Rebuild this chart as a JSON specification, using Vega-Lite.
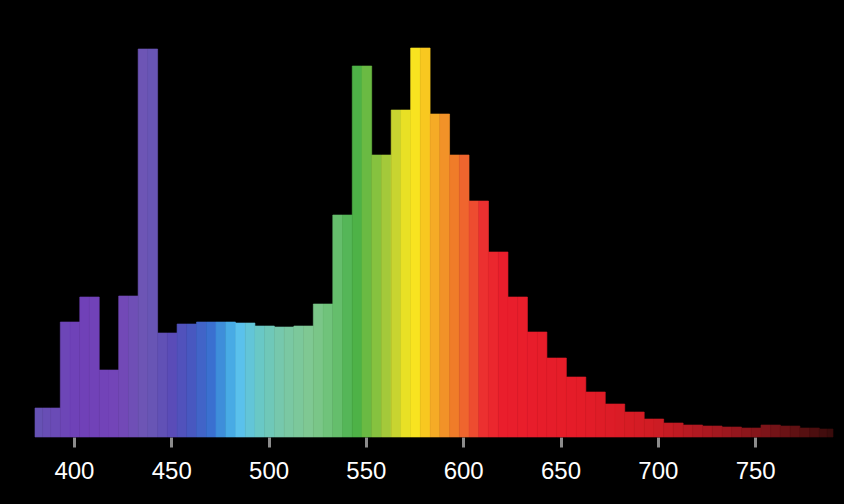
{
  "$schema": "https://vega.github.io/schema/vega-lite/v6.json",
  "width": 798,
  "height": 400,
  "autosize": {"type": "none"},
  "padding": {"left": 35, "top": 37, "right": 11, "bottom": 67},
  "background": "#000000",
  "config": {"view": {"stroke": null}},
  "data": {"values": [
    {"a":380,"b":384,"v":29},{"a":384,"b":388,"v":29},{"a":388,"b":393,"v":29},
    {"a":393,"b":398,"v":115},{"a":398,"b":403,"v":115},
    {"a":403,"b":408,"v":140},{"a":408,"b":413,"v":140},
    {"a":413,"b":418,"v":67},{"a":418,"b":423,"v":67},
    {"a":423,"b":428,"v":141},{"a":428,"b":433,"v":141},
    {"a":433,"b":438,"v":388},{"a":438,"b":443,"v":388},
    {"a":443,"b":448,"v":104},{"a":448,"b":453,"v":104},
    {"a":453,"b":458,"v":113},{"a":458,"b":463,"v":113},
    {"a":463,"b":468,"v":115},{"a":468,"b":473,"v":115},
    {"a":473,"b":478,"v":115},{"a":478,"b":483,"v":115},
    {"a":483,"b":488,"v":114},{"a":488,"b":493,"v":114},
    {"a":493,"b":498,"v":111},{"a":498,"b":503,"v":111},
    {"a":503,"b":508,"v":110},{"a":508,"b":513,"v":110},
    {"a":513,"b":518,"v":111},{"a":518,"b":523,"v":111},
    {"a":523,"b":528,"v":133},{"a":528,"b":533,"v":133},
    {"a":533,"b":538,"v":222},{"a":538,"b":543,"v":222},
    {"a":543,"b":548,"v":371},{"a":548,"b":553,"v":371},
    {"a":553,"b":558,"v":282},{"a":558,"b":563,"v":282},
    {"a":563,"b":568,"v":327},{"a":568,"b":573,"v":327},
    {"a":573,"b":578,"v":389},{"a":578,"b":583,"v":389},
    {"a":583,"b":588,"v":323},{"a":588,"b":593,"v":323},
    {"a":593,"b":598,"v":282},{"a":598,"b":603,"v":282},
    {"a":603,"b":608,"v":236},{"a":608,"b":613,"v":236},
    {"a":613,"b":618,"v":185},{"a":618,"b":623,"v":185},
    {"a":623,"b":628,"v":140},{"a":628,"b":633,"v":140},
    {"a":633,"b":638,"v":105},{"a":638,"b":643,"v":105},
    {"a":643,"b":648,"v":79},{"a":648,"b":653,"v":79},
    {"a":653,"b":658,"v":60},{"a":658,"b":663,"v":60},
    {"a":663,"b":668,"v":45},{"a":668,"b":673,"v":45},
    {"a":673,"b":678,"v":33},{"a":678,"b":683,"v":33},
    {"a":683,"b":688,"v":25},{"a":688,"b":693,"v":25},
    {"a":693,"b":698,"v":18},{"a":698,"b":703,"v":18},
    {"a":703,"b":708,"v":14},{"a":708,"b":713,"v":14},
    {"a":713,"b":718,"v":12},{"a":718,"b":723,"v":12},
    {"a":723,"b":728,"v":11},{"a":728,"b":733,"v":11},
    {"a":733,"b":738,"v":10},{"a":738,"b":743,"v":10},
    {"a":743,"b":748,"v":9},{"a":748,"b":753,"v":9},
    {"a":753,"b":758,"v":12},{"a":758,"b":763,"v":12},
    {"a":763,"b":768,"v":11},{"a":768,"b":773,"v":11},
    {"a":773,"b":778,"v":9},{"a":778,"b":783,"v":9},
    {"a":783,"b":787,"v":8},{"a":787,"b":790,"v":8}
  ]},
  "mark": {"type": "rect", "strokeWidth": 0.6},
  "encoding": {
    "x": {
      "field": "a", "type": "quantitative",
      "scale": {"domain": [380, 790], "nice": false, "zero": false},
      "axis": {
        "values": [400, 450, 500, 550, 600, 650, 700, 750],
        "title": null, "domain": false, "grid": false,
        "tickColor": "#8c8c8c", "tickSize": 10, "tickWidth": 3,
        "labelColor": "#ffffff", "labelFont": "Liberation Sans",
        "labelFontSize": 24, "labelPadding": 12
      }
    },
    "x2": {"field": "b"},
    "y": {
      "field": "v", "type": "quantitative",
      "scale": {"domain": [0, 400], "nice": false},
      "axis": null
    },
    "y2": {"datum": 0},
    "color": {
      "field": "a", "type": "quantitative", "legend": null,
      "scale": {
        "domain": [380, 400, 420, 435, 448, 458, 468, 476, 482, 492, 505, 520, 532, 542, 552, 560, 566, 572, 578, 585, 592, 600, 608, 618, 660, 695, 725, 755, 787],
        "range": ["#6652b4", "#7040b8", "#7345b8", "#6c58b4", "#5a4cb8", "#4858c0", "#3a70d0", "#40a0e0", "#58c0f0", "#68c8c8", "#78c8a8", "#80c890", "#68c070", "#48b048", "#80c040", "#b0cc38", "#e0dc28", "#f8e820", "#f8c820", "#f4a028", "#f08028", "#ee5c30", "#ec3030", "#ea1e2c", "#e41c28", "#d01c24", "#a81820", "#7a1418", "#3a0c0c"],
        "interpolate": "rgb"
      }
    },
    "stroke": {
      "field": "a", "type": "quantitative", "legend": null,
      "scale": {
        "domain": [380, 400, 420, 435, 448, 458, 468, 476, 482, 492, 505, 520, 532, 542, 552, 560, 566, 572, 578, 585, 592, 600, 608, 618, 660, 695, 725, 755, 787],
        "range": ["#6652b4", "#7040b8", "#7345b8", "#6c58b4", "#5a4cb8", "#4858c0", "#3a70d0", "#40a0e0", "#58c0f0", "#68c8c8", "#78c8a8", "#80c890", "#68c070", "#48b048", "#80c040", "#b0cc38", "#e0dc28", "#f8e820", "#f8c820", "#f4a028", "#f08028", "#ee5c30", "#ec3030", "#ea1e2c", "#e41c28", "#d01c24", "#a81820", "#7a1418", "#3a0c0c"],
        "interpolate": "rgb"
      }
    }
  }
}
